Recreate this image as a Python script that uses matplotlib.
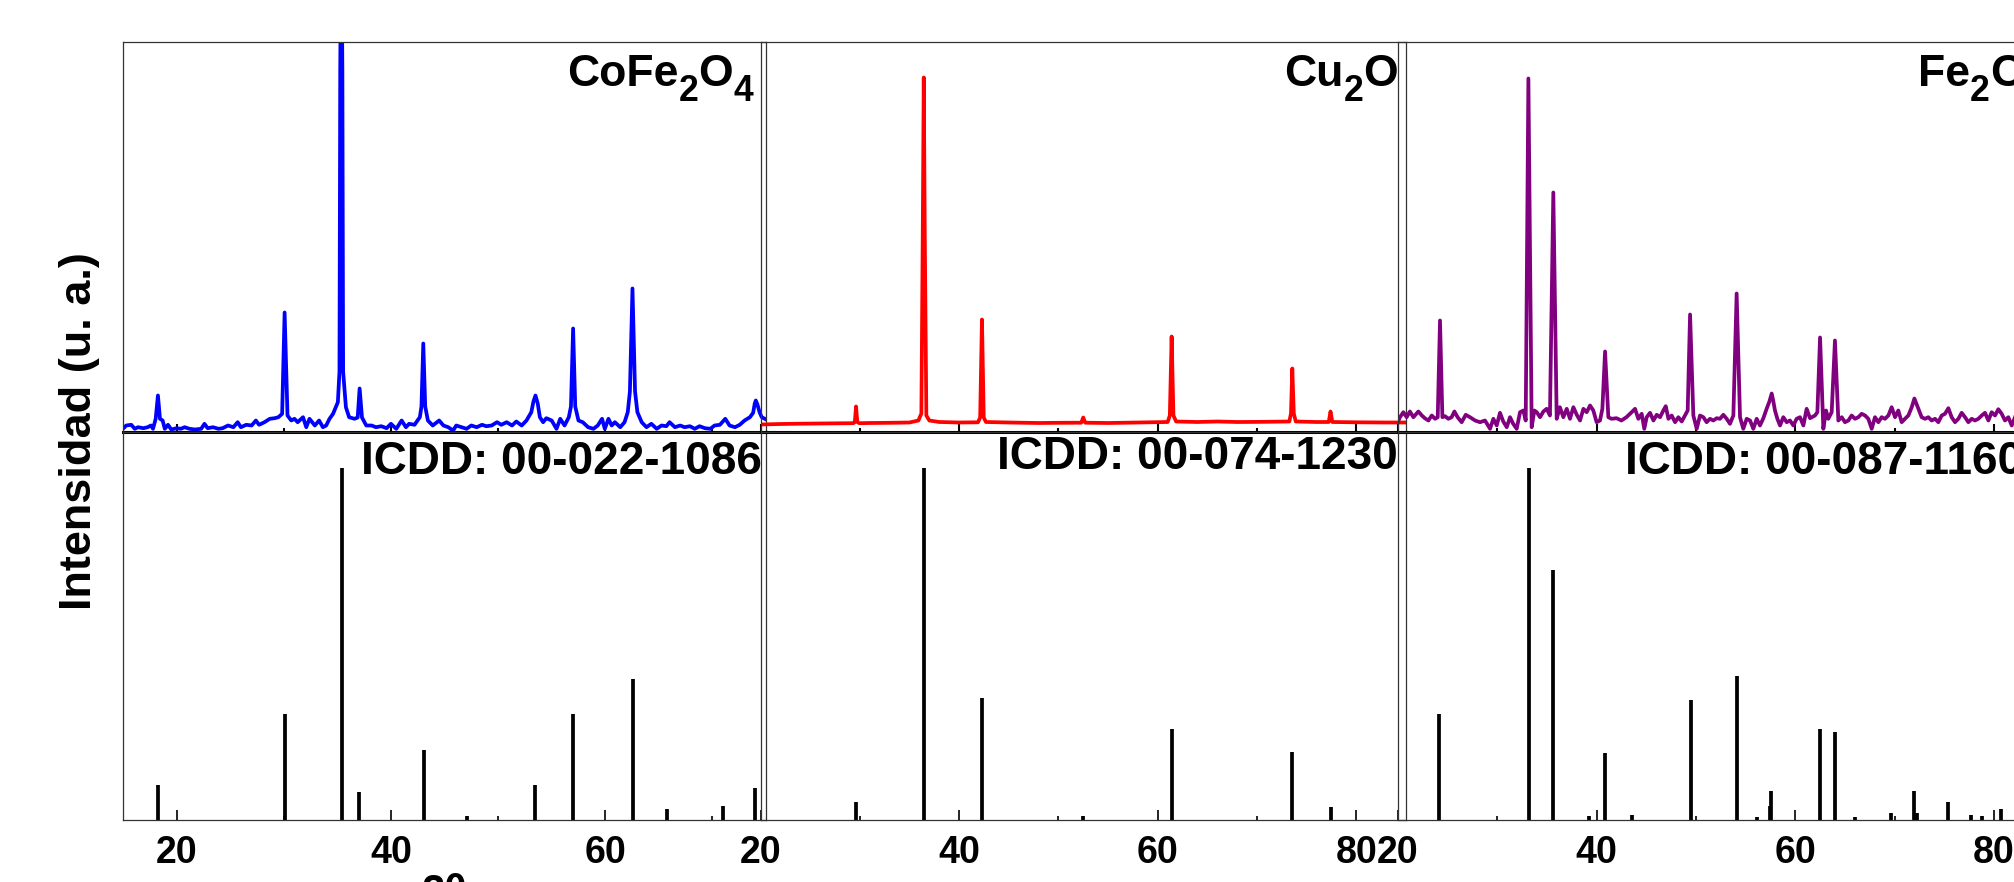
import matplotlib.pyplot as plt
from matplotlib.ticker import MultipleLocator
from matplotlib.transforms import IdentityTransform

plt.rcParams['font.family'] = ['Liberation Sans', 'DejaVu Sans']
plt.rcParams['font.weight'] = 'bold'

# Measured patterns: (2theta [deg], intensity [a.u.])
cofe_xrd = [
    (15.0, 2.7), (15.3, 6), (15.77, 6.7), (16.1, 2.7), (16.4, 4.3), (16.9, 3.3), (17.3, 4.3),
    (17.6, 6), (17.8, 2.7), (18.05, 12.7), (18.26, 36), (18.45, 12.7), (18.7, 11), (18.9, 2.7),
    (19.2, 6.7), (19.5, 2), (20.0, 3.3), (20.4, 2.7), (20.75, 4.3), (21.2, 2.7), (21.7, 2),
    (22.3, 2.7), (22.6, 7.7), (22.9, 3.3), (23.4, 4.3), (23.9, 2.7), (24.3, 3.3), (24.8, 6),
    (25.3, 4.3), (25.7, 9.3), (26.0, 4.3), (26.5, 6.7), (27.0, 6), (27.4, 11), (27.7, 6.7),
    (28.2, 9.3), (28.7, 12.7), (29.15, 13.3), (29.5, 14.3), (29.85, 17.7), (30.08, 119),
    (30.35, 16), (30.7, 11), (31.0, 12.7), (31.3, 9.3), (31.8, 14.3), (32.1, 4.3), (32.4, 12.7),
    (32.9, 6), (33.3, 11), (33.65, 4.3), (33.96, 6), (34.27, 12.7), (34.6, 17.7), (35.05, 29.3),
    (35.2, 60), (35.27, 360), (35.37, 520), (35.47, 360), (35.54, 60), (35.8, 24.3), (36.1, 14.3),
    (36.6, 12.7), (36.9, 14), (37.08, 43), (37.3, 14), (37.7, 6), (38.2, 6), (38.6, 4.3),
    (39.1, 5.3), (39.6, 3.3), (40.0, 7.7), (40.5, 2.7), (41.0, 11), (41.4, 4.3), (41.7, 7.7),
    (42.2, 6.7), (42.7, 14.3), (42.85, 25), (43.02, 88), (43.2, 25), (43.45, 11), (43.9, 6),
    (44.5, 11), (44.9, 6), (45.35, 4.3), (45.8, 1), (46.1, 6), (46.6, 4.3), (47.06, 2.7),
    (47.5, 6), (48.0, 4.3), (48.5, 6.7), (48.9, 5.3), (49.4, 6), (49.9, 9.3), (50.3, 6.7),
    (50.8, 9.3), (51.3, 6), (51.7, 10), (52.2, 6), (52.65, 11), (53.1, 19.3), (53.3, 30),
    (53.49, 36), (53.7, 28), (53.9, 14.3), (54.2, 9.3), (54.5, 13.3), (55.0, 11), (55.45, 2.7),
    (55.8, 12.7), (56.2, 6), (56.6, 14.3), (56.8, 25), (57.0, 103), (57.2, 25), (57.5, 11),
    (57.9, 9.3), (58.4, 4.3), (58.9, 2.7), (59.3, 6), (59.7, 12.7), (59.96, 2.7), (60.3, 12.7),
    (60.6, 6), (60.9, 9.3), (61.4, 4.3), (61.8, 9.3), (62.1, 19.3), (62.3, 40), (62.54, 143),
    (62.78, 40), (63.0, 19.3), (63.4, 9.3), (63.85, 4.3), (64.3, 7.7), (64.8, 2.7), (65.25, 6),
    (65.7, 5.3), (66.0, 9.3), (66.5, 4.3), (67.0, 6), (67.4, 4.3), (67.9, 5.3), (68.35, 2.7),
    (68.8, 5.3), (69.3, 3.3), (69.8, 2.7), (70.2, 6), (70.7, 6.7), (71.2, 12.7), (71.6, 6),
    (72.1, 4.3), (72.55, 6.7), (73.0, 11), (73.5, 14.3), (73.8, 18.7), (73.95, 28), (74.05, 31),
    (74.2, 27), (74.4, 19.3), (74.6, 14.3), (74.9, 12.7), (75.2, 11),
]

cu2o_xrd = [
    (20.0, 7), (22.0, 7.5), (24.0, 7.8), (26.0, 8), (28.0, 8.2), (29.35, 8.3), (29.5, 9.5),
    (29.62, 25), (29.75, 9.5), (29.95, 8.3), (31.0, 8.5), (33.0, 8.7), (35.0, 9), (35.9, 11),
    (36.2, 18), (36.34, 200), (36.44, 354), (36.54, 200), (36.7, 16), (37.0, 11), (38.0, 9.5),
    (40.0, 9), (41.9, 9.2), (42.12, 14), (42.3, 112), (42.48, 14), (42.7, 9.5), (45.0, 9),
    (48.0, 8.5), (50.0, 8.7), (52.3, 8.8), (52.5, 14), (52.7, 8.8), (55.0, 8.5), (58.0, 9),
    (61.0, 9.5), (61.22, 16), (61.4, 95), (61.58, 16), (61.85, 10), (64.0, 9.5), (66.0, 10),
    (68.0, 9.5), (70.0, 9.6), (73.25, 10), (73.42, 18), (73.55, 63), (73.7, 18), (73.9, 10),
    (76.0, 9.5), (77.22, 9.5), (77.4, 20), (77.58, 9.5), (80.0, 9.2), (83.0, 9), (85.0, 9),
]

fe2o3_xrd = [
    (20.0, 10), (20.2, 14.3), (20.54, 19.3), (20.87, 14.3), (21.2, 20), (21.55, 14.3),
    (22.05, 20), (22.4, 16), (22.7, 13.3), (23.06, 11), (23.4, 16), (23.73, 12.7), (24.0, 14.3),
    (24.23, 111), (24.47, 14.3), (24.74, 15.3), (25.07, 12.7), (25.4, 14.3), (25.68, 20),
    (26.0, 14.3), (26.41, 9.3), (26.82, 16.7), (27.25, 14.3), (27.76, 11), (28.26, 9.3),
    (28.76, 11), (29.27, 2.7), (29.6, 12.7), (29.94, 6), (30.27, 18.7), (30.6, 10), (30.95, 4.3),
    (31.28, 14.3), (31.6, 7.7), (31.95, 2.7), (32.29, 19.3), (32.62, 21), (32.86, 11),
    (33.13, 353), (33.46, 4.3), (33.73, 21), (33.97, 19.3), (34.3, 14.3), (34.64, 20),
    (34.97, 22.7), (35.3, 16), (35.64, 239), (35.98, 12.7), (36.3, 24.3), (36.65, 14.3),
    (36.99, 22.7), (37.32, 12.7), (37.66, 24.3), (38.0, 16.7), (38.33, 11), (38.67, 22.7),
    (39.0, 19.3), (39.34, 26), (39.67, 21), (40.0, 9.3), (40.34, 11), (40.58, 22.7), (40.85, 80),
    (41.18, 14.3), (41.5, 12.7), (42.0, 13.3), (42.5, 11), (43.0, 14.3), (43.53, 19.3),
    (43.87, 22.7), (44.2, 12.7), (44.54, 17.7), (44.8, 2.7), (45.04, 14.3), (45.38, 18.7),
    (45.72, 11), (46.05, 16.7), (46.39, 14.3), (46.72, 21), (46.96, 25.3), (47.23, 12.7),
    (47.56, 16), (47.9, 9.3), (48.23, 14.3), (48.57, 10), (48.9, 16), (49.17, 21), (49.41, 117),
    (49.74, 16), (50.08, 2.7), (50.41, 16), (50.75, 14.3), (51.08, 9.3), (51.42, 12.7),
    (51.75, 11), (52.09, 13.3), (52.42, 12.7), (52.76, 16.7), (53.1, 12.7), (53.43, 7.7),
    (53.77, 16), (54.1, 138), (54.44, 14.3), (54.77, 2.7), (55.11, 12.7), (55.45, 11),
    (55.78, 2.7), (56.12, 12.7), (56.45, 6), (56.79, 13.3), (57.12, 22.7), (57.4, 30),
    (57.63, 38), (57.8, 30), (57.96, 21), (58.2, 12.7), (58.47, 6), (58.8, 14.3), (59.14, 9.3),
    (59.47, 11), (59.81, 6), (60.14, 12.7), (60.48, 14.3), (60.82, 6), (61.15, 22.7),
    (61.49, 13.3), (61.99, 16), (62.23, 19.3), (62.5, 94), (62.83, 2.7), (63.1, 21),
    (63.33, 12.7), (63.67, 19.3), (64.0, 91), (64.34, 11), (64.68, 14.3), (65.01, 9.3),
    (65.35, 11), (65.68, 16), (66.02, 12.7), (66.35, 14.3), (66.69, 17.7), (67.03, 16),
    (67.36, 12.7), (67.7, 2.7), (68.03, 14.3), (68.37, 9.3), (68.7, 14.3), (69.04, 12.7),
    (69.38, 16), (69.71, 24.3), (70.05, 14.3), (70.38, 21), (70.72, 9.3), (71.05, 12.7),
    (71.39, 16), (71.73, 24.3), (72.0, 33), (72.4, 22.7), (72.73, 14.3), (73.07, 12.7),
    (73.4, 14.3), (73.74, 11), (74.08, 12.7), (74.41, 9.3), (74.75, 16), (75.08, 17.7),
    (75.42, 23.3), (75.75, 14.3), (76.09, 9.3), (76.43, 12.7), (76.76, 18.7), (77.1, 14.3),
    (77.43, 9.3), (77.77, 12.7), (78.1, 11), (78.44, 12.7), (78.78, 16), (79.11, 18.7),
    (79.45, 11), (79.78, 19.3), (80.12, 16), (80.45, 22.3), (80.79, 17.7), (81.12, 11),
    (81.46, 14.3), (81.8, 6), (82.2, 16), (82.6, 12), (83.0, 15), (83.5, 11), (84.0, 14),
    (84.5, 12), (85.0, 13),
]

# Reference cards: line positions (2theta) and relative intensity (%)
cofe_card_tt = [18.29, 30.08, 35.44, 37.06, 43.06, 47.13, 53.45, 56.97, 62.59, 65.74, 71.0, 74.0]
cofe_card_i = [10, 30, 100, 8, 20, 1, 10, 30, 40, 3, 4, 9]

cu2o_card_tt = [29.6, 36.44, 42.33, 52.5, 61.4, 73.55, 77.4]
cu2o_card_i = [5, 100, 34.6, 1, 26, 19.4, 3.8]

fe2o3_card_tt = [24.14, 33.15, 35.61, 39.28, 40.85, 43.52, 49.48, 54.09, 56.15, 57.43, 57.59,
                 62.45, 64.0, 66.03, 69.6, 71.94, 72.26, 75.43, 77.73, 78.76, 80.71, 82.9, 84.9]
fe2o3_card_i = [30, 100, 71, 1.2, 19, 1.5, 34, 41, 0.8, 4, 8.3,
                26, 25, 0.8, 2, 8.3, 2, 5, 1.5, 1, 3, 2, 3]

phase_names = [[('CoFe', 0), ('2', 1), ('O', 0), ('4', 1)],
               [('Cu', 0), ('2', 1), ('O', 0)],
               [('Fe', 0), ('2', 1), ('O', 0), ('3', 1)]]
card_names = ['ICDD: 00-022-1086', 'ICDD: 00-074-1230', 'ICDD: 00-087-1160']

W, H = 2015, 882
fig = plt.figure(figsize=(W / 100, H / 100), dpi=100)
renderer = fig.canvas.get_renderer()

TOP, MID, BOT = 42.5, 431.5, 820.0


def rect(x0, x1, y0, y1):
    """pixel box (y from top) -> figure fraction rect"""
    return [x0 / W, 1 - y1 / H, (x1 - x0) / W, (y1 - y0) / H]


def formula(pieces, x, base, size, align='right', sub_scale=0.8):
    """draw a chemical formula with subscripts, positioned in pixels"""
    arts = []
    for s, sub in pieces:
        fs = size * sub_scale if sub else size
        t = fig.text(0, 0, s, fontsize=fs, fontweight='bold', va='baseline', ha='left',
                     transform=IdentityTransform())
        arts.append((t, sub, t.get_window_extent(renderer).width))
    total = sum(a[2] for a in arts)
    cur = x - total if align == 'right' else x
    drop = 0.33 * size * 100 / 72
    for t, sub, w in arts:
        t.set_position((cur, H - base - (drop if sub else 0)))
        cur += w


def style_frame(ax):
    ax.set_facecolor('none')
    for side in ['left', 'right', 'top', 'bottom']:
        ax.spines[side].set_color('#333333')
        ax.spines[side].set_linewidth(0.9)
    ax.set_yticks([])
    ax.xaxis.set_major_locator(MultipleLocator(20))
    ax.xaxis.set_minor_locator(MultipleLocator(10))


panels = [
    dict(x0=123, x1=766, xlim=(15, 75), xrd=cofe_xrd, color='#0000ff',
         card=(cofe_card_tt, cofe_card_i)),
    dict(x0=760.5, x1=1406, xlim=(20, 85), xrd=cu2o_xrd, color='#ff0000',
         card=(cu2o_card_tt, cu2o_card_i)),
    dict(x0=1398, x1=2043.5, xlim=(20, 85), xrd=fe2o3_xrd, color='#800080',
         card=(fe2o3_card_tt, fe2o3_card_i)),
]

for p in panels:
    # measured pattern
    ax = fig.add_axes(rect(p['x0'], p['x1'], TOP, MID))
    style_frame(ax)
    tt = [a for a, b in p['xrd']]
    inten = [b for a, b in p['xrd']]
    ax.plot(tt, inten, color=p['color'], lw=2.7, solid_joinstyle='round')
    ax.set_xlim(*p['xlim'])
    ax.set_ylim(0, 389)
    ax.spines['bottom'].set_color('black')
    ax.spines['bottom'].set_linewidth(2.2)
    ax.tick_params(axis='x', which='major', direction='in', length=6, width=1.5,
                   labelbottom=False, color='black')
    ax.tick_params(axis='x', which='minor', direction='in', length=3, width=1.5, color='black')

    # reference card
    axr = fig.add_axes(rect(p['x0'], p['x1'], MID, BOT))
    style_frame(axr)
    axr.vlines(p['card'][0], 0, p['card'][1], color='black', lw=2.7)
    axr.set_xlim(*p['xlim'])
    axr.set_ylim(0, 110.4)
    axr.tick_params(axis='x', which='major', direction='in', length=7, width=1.2,
                    labelsize=27, pad=11, color='black')
    axr.tick_params(axis='x', which='minor', direction='in', length=3, width=1.2, color='black')

# phase labels and card numbers
formula(phase_names[0], 753, 86, 32)
formula(phase_names[1], 1398, 86, 32)
formula(phase_names[2], 1918, 86, 32, align='left')
formula([(card_names[0], 0)], 762, 474, 33)
formula([(card_names[1], 0)], 1398, 469, 33)
formula([(card_names[2], 0)], 1625, 474, 33, align='left')

fig.text(80 / W, 1 - 431 / H, 'Intensidad (u. a.)', rotation=90, ha='center', va='center',
         fontsize=32.5, fontweight='bold')
fig.text(444.5 / W, (H - 904) / H, '2θ', ha='center', va='baseline', fontsize=30,
         fontweight='bold')

fig.savefig('out.png', dpi=100)
